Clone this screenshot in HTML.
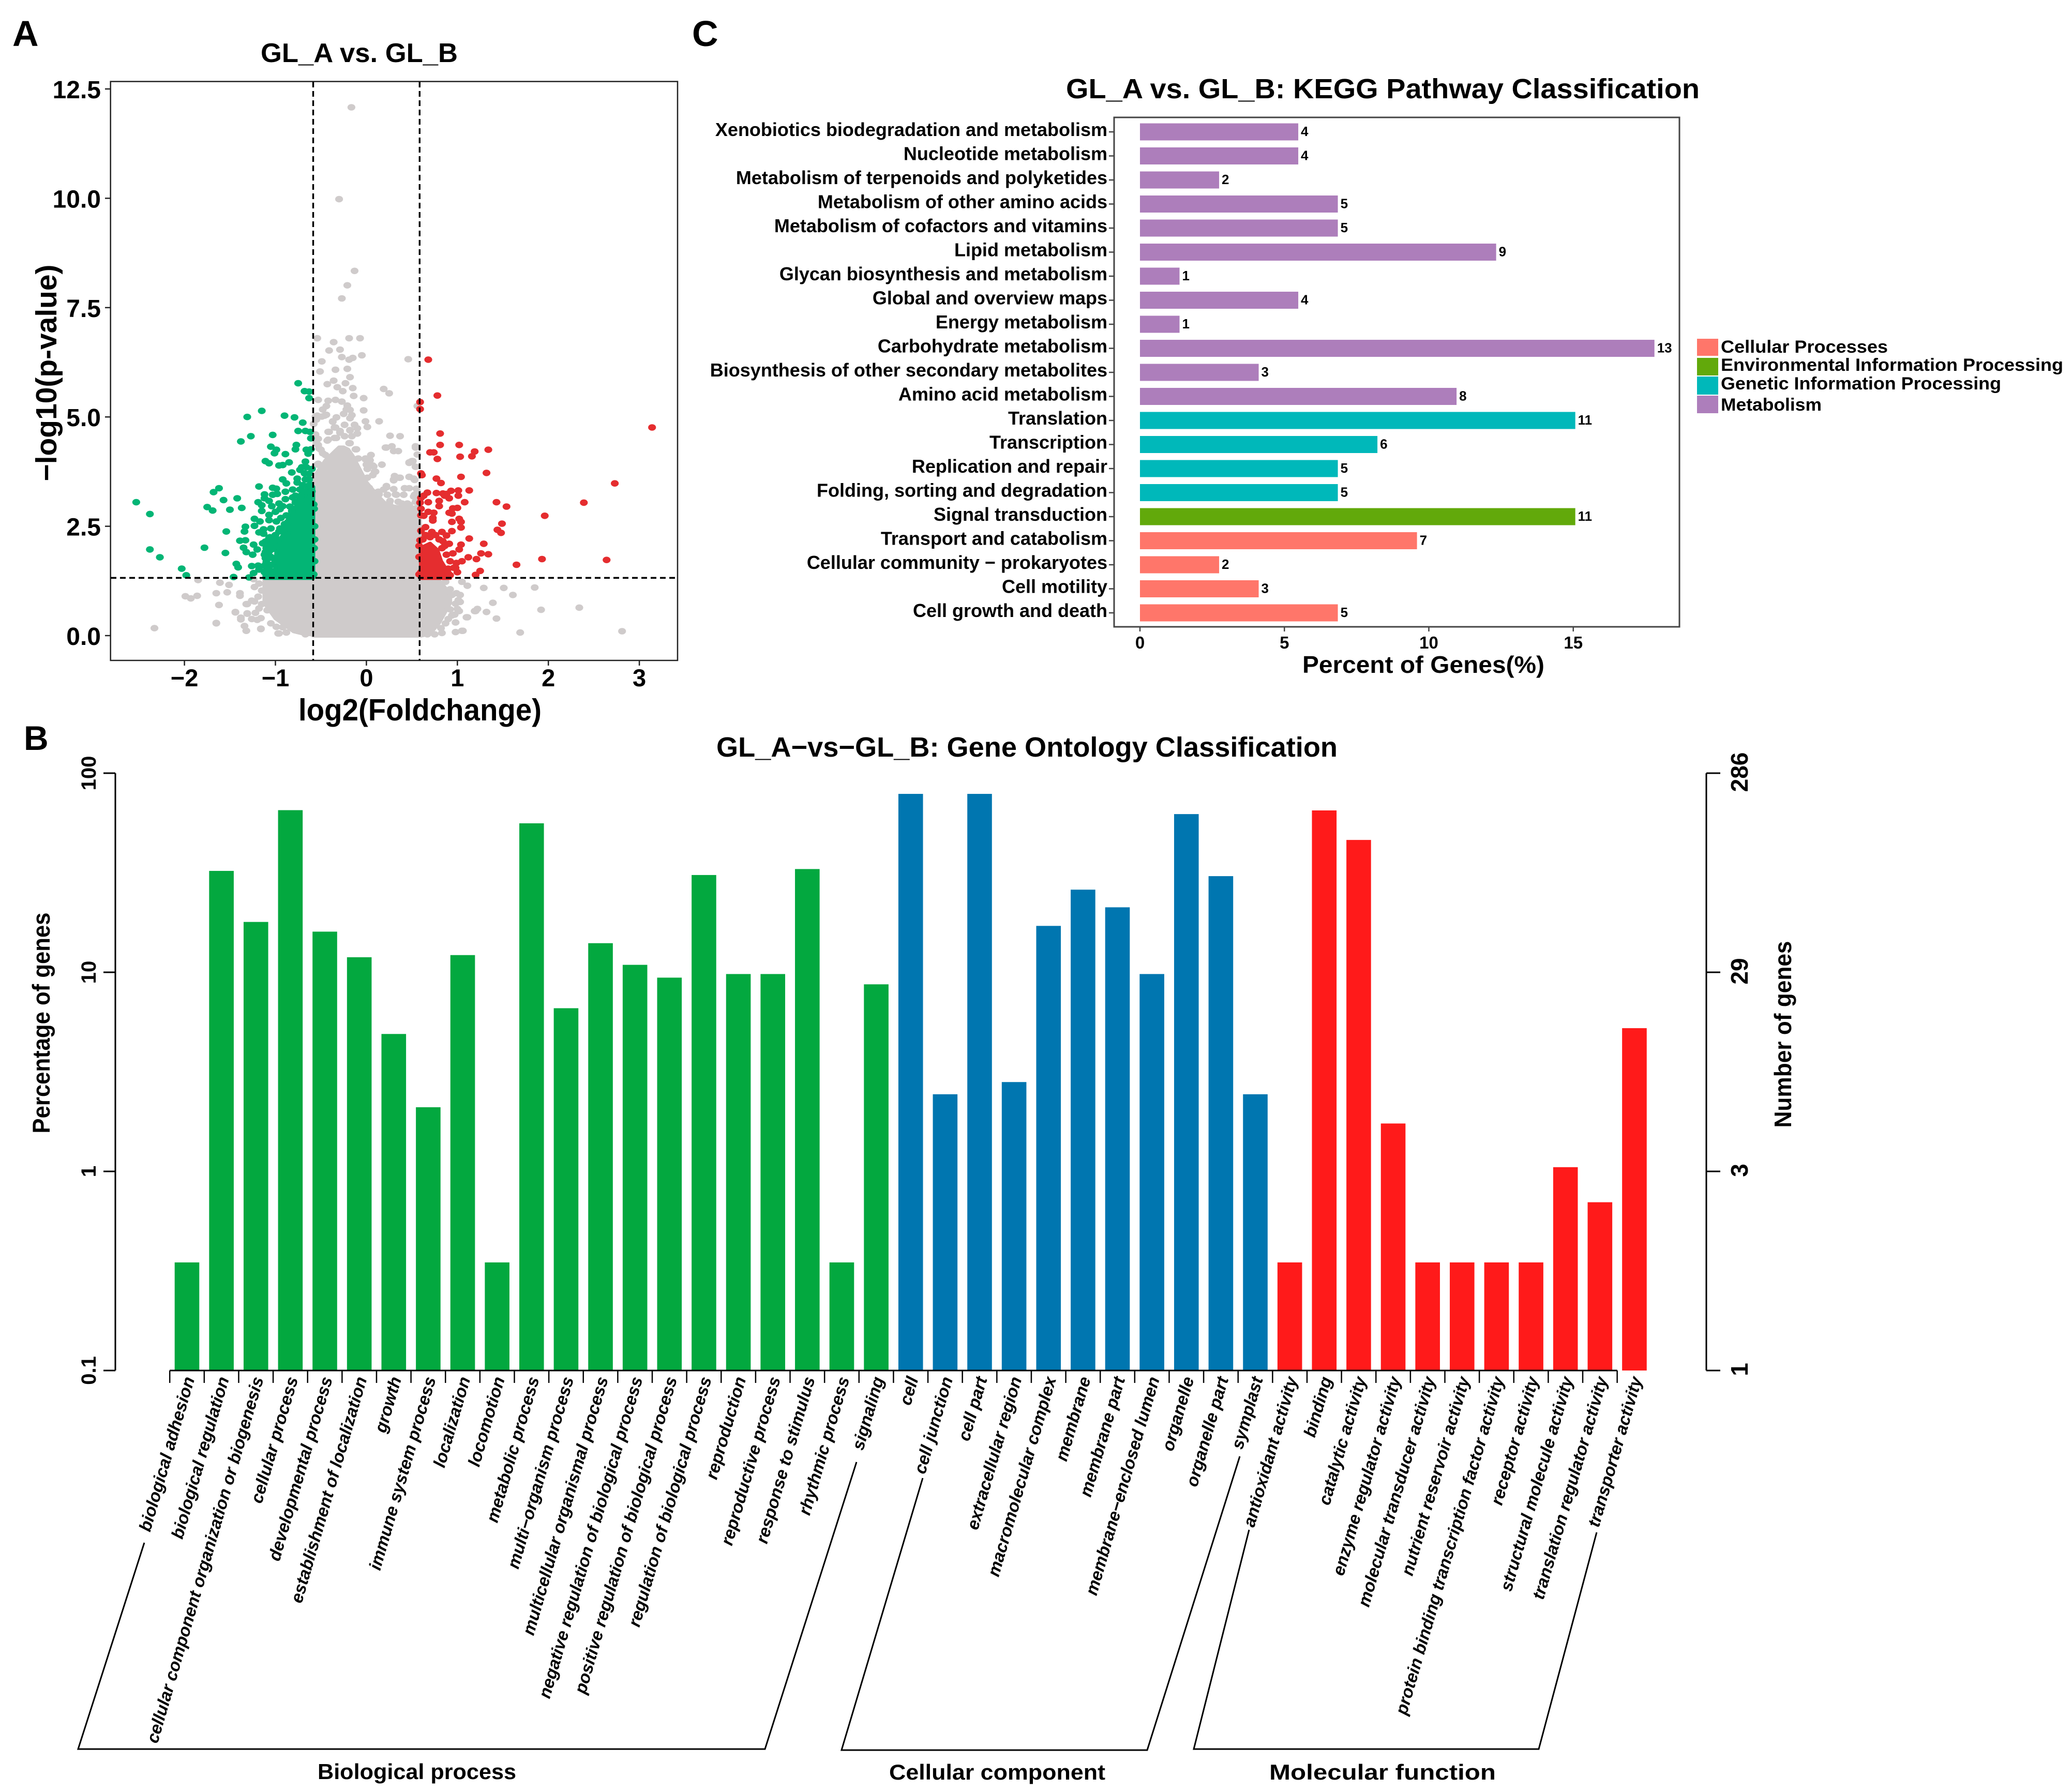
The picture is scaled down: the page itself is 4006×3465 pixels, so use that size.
<!DOCTYPE html>
<html lang="en">
<head>
<meta charset="utf-8">
<title>GL_A vs. GL_B figure</title>
<style>
html,body{margin:0;padding:0;background:#fff;}
svg{display:block;}
text{font-family:"Liberation Sans",Arial,sans-serif;font-weight:bold;fill:#000;}
</style>
</head>
<body>
<svg id="fig" xmlns="http://www.w3.org/2000/svg" width="4006" height="3465" viewBox="0 0 4006 3465">
<rect x="0" y="0" width="4006" height="3465" fill="#fff"/>
<text x="24" y="89" font-size="70">A</text>
<text x="46" y="1450" font-size="66">B</text>
<text x="1338" y="89" font-size="70">C</text>

<g id="volcano"></g>
<text x="504" y="120" font-size="52" textLength="381" lengthAdjust="spacingAndGlyphs">GL_A vs. GL_B</text>
<text transform="translate(109,721) rotate(-90)" text-anchor="middle" font-size="57" textLength="419" lengthAdjust="spacingAndGlyphs">−log10(p-value)</text>
<text x="812" y="1393" text-anchor="middle" font-size="59" textLength="470" lengthAdjust="spacingAndGlyphs">log2(Foldchange)</text>

<g id="kegg"></g>
<text x="2061" y="190" font-size="54" textLength="1225" lengthAdjust="spacingAndGlyphs">GL_A vs. GL_B: KEGG Pathway Classification</text>
<text x="2518" y="1301" font-size="46" textLength="468" lengthAdjust="spacingAndGlyphs">Percent of Genes(%)</text>
<g>
  <rect x="3281" y="655" width="41" height="33" fill="#FF766A"/>
  <rect x="3281" y="692" width="41" height="34" fill="#62A90B"/>
  <rect x="3281" y="728" width="41" height="35" fill="#00B8BA"/>
  <rect x="3281" y="765" width="41" height="34" fill="#AD7EBB"/>
  <text x="3327" y="682" font-size="34" textLength="323" lengthAdjust="spacingAndGlyphs">Cellular Processes</text>
  <text x="3327" y="717" font-size="34" textLength="662" lengthAdjust="spacingAndGlyphs">Environmental Information Processing</text>
  <text x="3327" y="753" font-size="34" textLength="542" lengthAdjust="spacingAndGlyphs">Genetic Information Processing</text>
  <text x="3327" y="794" font-size="34" textLength="195" lengthAdjust="spacingAndGlyphs">Metabolism</text>
</g>

<g id="go"></g>
<text x="1385" y="1463" font-size="54" textLength="1201" lengthAdjust="spacingAndGlyphs">GL_A−vs−GL_B: Gene Ontology Classification</text>
<text transform="translate(96,1978) rotate(-90)" text-anchor="middle" font-size="47" textLength="427" lengthAdjust="spacingAndGlyphs">Percentage of genes</text>
<text transform="translate(3463,2000) rotate(-90)" text-anchor="middle" font-size="46" textLength="361" lengthAdjust="spacingAndGlyphs">Number of genes</text>
<g fill="none" stroke="#000" stroke-width="3">
  <polyline points="279,2983 151,3382 1479,3382 1656,2827"/>
  <polyline points="1784,2858 1627,3384 2218,3384 2397,2816"/>
  <polyline points="2415,2958 2308,3382 2975,3382 3087,2963"/>
</g>
<text x="614" y="3440" font-size="42" textLength="384" lengthAdjust="spacingAndGlyphs">Biological process</text>
<text x="1719" y="3441" font-size="42" textLength="418" lengthAdjust="spacingAndGlyphs">Cellular component</text>
<text x="2454" y="3441" font-size="42" textLength="438" lengthAdjust="spacingAndGlyphs">Molecular function</text>
</svg>

<script>
/* ---------- Volcano data (log2 fold change, -log10 p) ---------- */
const volcanoXTicks = [-2,-1,0,1,2,3];
const volcanoXTickLabels = ['−2','−1','0','1','2','3'];
const volcanoYTicks = [0,2.5,5,7.5,10,12.5];
const volcanoYTickLabels = ['0.0','2.5','5.0','7.5','10.0','12.5'];
const fcCutoff = 0.585;
const pCutoff = 1.32;

const grayCoreX = [-1.12,-1.0,-0.9,-0.8,-0.7,-0.6,-0.585,-0.55,-0.5,-0.45,-0.35,-0.3,-0.25,-0.2,-0.15,-0.1,-0.05,0,0.1,0.2,0.3,0.4,0.5,0.585,0.6,0.7,0.8,0.88,0.92];
const grayCoreTop = [1.3,1.3,1.3,1.3,1.3,1.3,3.6,3.7,3.85,4.0,4.2,4.3,4.3,4.25,4.1,3.9,3.7,3.5,3.25,3.03,2.95,2.92,2.92,2.95,1.3,1.3,1.25,1.05,0.95];
const grayCoreBottom = [0.75,0.4,0.25,0.1,0.05,0.03,0,0,0,0,0,0,0,0,0,0,0,0,0,0,0,0,0,0,0,0.05,0.3,0.6,0.75];

const grayPoints = [[-0.165,12.08],[-0.30,9.98],[-0.13,8.34],[-0.21,8.01],[-0.27,7.71],[-0.54,6.80],[-0.19,6.80],[-0.07,6.80],[-0.36,6.71],[-0.41,6.52],[-0.29,6.54],[-0.27,6.37],[-0.19,6.31],[-0.15,6.35],[-0.05,6.41],[0.46,6.32],[-0.49,6.27],[-0.51,6.04],[-0.34,6.08],[-0.21,6.10],[-0.18,5.91],[-0.36,5.83],[-0.43,5.75],[-0.23,5.77],[-0.32,5.68],[-0.15,5.66],[-0.26,5.59],[0.19,5.64],[0.25,5.54],[-0.14,5.48],[-0.03,5.43],[-0.53,5.39],[-0.42,5.37],[-0.34,5.39],[-0.27,5.35],[-0.21,5.26],[-0.44,5.25],[-0.48,5.17],[-0.03,5.15],[-0.22,5.17],[-0.18,5.16],[0.56,5.25],[-0.44,5.05],[-0.25,5.07],[-0.16,5.04],[-0.56,5.01],[-0.49,5.01],[-0.33,4.99],[-0.18,4.97],[-0.55,4.94],[-0.01,4.90],[0.14,4.90],[-0.37,4.89],[-0.24,4.82],[-0.13,4.82],[-0.58,4.84],[0.01,4.77],[-0.34,4.76],[-0.10,4.74],[-0.18,4.70],[-0.41,4.66],[-0.29,4.64],[-0.10,4.62],[-0.56,4.60],[0.26,4.57],[0.37,4.56],[-0.16,4.56],[-0.53,4.50],[-0.42,4.48],[-0.33,4.52],[-0.19,4.40],[0.22,4.30],[0.28,4.33],[0.54,4.33],[0.30,4.22],[0.35,4.22],[-0.11,4.26],[0.56,4.14],[0.05,4.13],[-0.01,4.05],[0.04,4.01],[0.47,3.96],[0.51,3.99],[0.17,3.91],[0.0,3.91],[0.54,3.86],[0.08,3.87],[0.01,3.81],[0.10,3.75],[0.31,3.65],[0.47,3.63],[-0.53,4.36],[-0.50,4.25],[-0.45,4.13],[-0.09,4.05],[-0.11,3.85],[-0.09,3.75],[-0.53,3.93],[0.30,3.55],[0.37,3.61],[0.52,3.59],[0.49,3.98],[0.54,4.3],[0.17,3.91],[0.22,3.39],[0.32,3.23],[0.42,3.37],[0.52,3.18],[0.13,3.29],[0.56,3.29],[0.25,3.02],[0.39,3.02],[0.47,2.99],[-1.61,1.21],[-1.51,1.16],[-1.65,0.97],[-1.53,0.99],[-1.39,0.97],[-1.39,0.91],[-1.62,0.70],[-1.44,0.53],[-1.65,0.28],[-1.31,0.72],[-1.26,0.80],[-1.23,0.78],[-1.31,0.51],[-1.38,0.41],[-1.34,0.22],[-1.32,0.11],[-1.16,0.15],[-1.26,0.38],[-1.20,0.36],[-1.22,0.52],[-1.16,0.40],[-1.18,0.62],[-1.15,0.72],[-1.19,0.89],[-1.23,1.11],[-1.18,1.19],[-1.24,1.29],[-1.15,1.03],[-1.09,0.58],[-1.05,0.28],[-0.99,0.20],[-0.96,0.05],[-0.88,0.07],[-0.92,0.19],[-0.79,0.13],[-0.67,0.03],[-1.0,0.5],[-0.98,0.42],[-1.07,1.25],[-0.99,1.29],[0.87,1.23],[1.05,1.23],[1.11,1.14],[0.83,1.11],[0.92,1.06],[0.99,0.97],[0.94,0.93],[1.03,0.93],[1.01,0.81],[0.98,0.73],[0.92,0.60],[1.02,0.56],[0.97,0.48],[0.94,0.46],[1.11,0.42],[0.98,0.30],[0.90,0.38],[0.87,0.28],[0.82,0.17],[0.83,0.06],[0.98,0.08],[1.06,0.11],[0.75,0.03],[0.67,0.03],[0.80,0.42],[0.77,0.46],[0.71,0.26],[1.19,0.56],[1.29,1.09],[1.51,1.09],[1.61,0.93],[1.85,1.10],[1.39,0.75],[1.22,0.61],[1.20,0.56],[1.32,0.54],[1.43,0.39],[1.10,0.42],[1.92,0.59],[2.34,0.64],[1.69,0.07],[2.81,0.10],[1.05,0.11],[1.03,0.77],[1.0,0.61],[-1.85,1.27],[-1.99,0.90],[-1.93,0.85],[-1.86,0.91],[-1.62,0.70],[-1.65,0.29],[-2.33,0.17],[-1.44,0.54],[-1.32,0.72],[-1.38,0.37],[-1.31,0.50],[-1.32,0.11],[-1.16,0.16],[-0.97,0.05]];
const grayEdgePoints = [[-0.54,5.03],[-0.46,5.03],[-0.33,4.99],[-0.37,4.90],[-0.24,4.82],[-0.35,4.76],[-0.13,4.82],[-0.42,4.66],[-0.29,4.68],[-0.18,4.69],[-0.10,4.62],[-0.56,4.56],[-0.43,4.46],[-0.35,4.52],[-0.24,4.56],[-0.18,4.40],[-0.12,4.26],[-0.52,4.28],[-0.48,4.17],[-0.55,4.40],[-0.12,4.03],[-0.01,4.03],[0.05,4.13],[0.01,3.93],[0.07,3.89],[0.01,3.81],[0.09,3.75],[0.07,3.67],[0.01,3.61],[-0.54,3.91],[0.21,4.30],[0.50,3.99],[0.47,3.95],[0.54,3.86],[0.36,3.61],[0.30,3.57],[0.47,3.63],[0.53,3.56],[0.22,3.42],[0.19,3.34],[0.30,3.35],[0.42,3.37],[0.47,3.37],[0.55,3.36],[0.14,3.23],[0.23,3.22],[0.33,3.22],[0.41,3.22],[0.53,3.22],[0.03,3.38],[0.07,3.28],[0.04,3.18],[0.09,3.06],[0.26,3.08],[0.35,3.06],[0.45,3.02],[0.54,3.06]];

const greenCoreX = [-1.12,-1.0,-0.99,-0.95,-0.9,-0.85,-0.8,-0.75,-0.7,-0.65,-0.6,-0.585];
const greenCoreTop = [1.5,1.5,1.9,2.2,2.35,2.75,2.9,3.0,3.1,3.3,3.4,3.4];
const greenPoints = [[-2.53,3.05],[-2.38,2.78],[-2.38,1.97],[-2.27,1.79],[-2.03,1.53],[-1.98,1.38],[-1.78,2.01],[-1.55,1.89],[-1.54,2.38],[-1.46,1.34],[-1.29,1.33],[-1.62,3.37],[-1.68,3.28],[-1.57,3.10],[-1.42,3.14],[-1.75,2.94],[-1.69,2.86],[-1.50,2.88],[-1.37,2.92],[-1.38,4.44],[-1.27,4.56],[-1.31,5.00],[-1.15,5.14],[-0.90,5.03],[-0.79,4.99],[-0.70,4.87],[-0.75,5.77],[-0.68,5.59],[-0.63,5.58],[-0.63,5.43],[-1.03,4.59],[-0.75,4.68],[-0.67,4.68],[-0.62,4.66],[-0.61,4.51],[-1.05,4.32],[-0.99,4.25],[-1.01,4.17],[-0.89,4.15],[-0.77,4.36],[-0.78,4.26],[-0.66,4.25],[-0.64,4.16],[-0.61,4.26],[-1.11,3.99],[-1.07,3.94],[-0.96,3.89],[-0.92,3.90],[-0.85,3.96],[-0.82,3.73],[-0.67,3.98],[-0.71,3.85],[-0.73,3.79],[-0.66,3.85],[-0.60,3.81],[-0.68,3.71],[-0.92,3.57],[-0.88,3.48],[-0.76,3.59],[-0.76,3.50],[-0.67,3.57],[-0.63,3.57],[-1.18,3.41],[-1.03,3.38],[-0.99,3.36],[-0.89,3.29],[-0.81,3.34],[-0.73,3.34],[-0.62,3.28],[-1.12,3.23],[-1.03,3.22],[-0.98,3.24],[-1.12,3.14],[-0.89,3.12],[-0.81,3.16],[-0.73,3.15],[-1.19,3.05],[-1.07,3.08],[-1.15,2.98],[-1.04,2.96],[-0.96,3.02],[-0.92,2.96],[-0.95,2.89],[-1.15,2.85],[-1.0,2.83],[-1.07,2.76],[-1.07,2.64],[-1.23,2.67],[-1.17,2.61],[-0.99,2.61],[-0.94,2.69],[-1.23,2.51],[-1.33,2.49],[-1.34,2.38],[-1.13,2.43],[-1.05,2.45],[-1.18,2.36],[-1.13,2.33],[-0.95,2.45],[-0.88,2.32],[-1.39,2.17],[-1.33,2.18],[-1.07,2.23],[-1.24,2.08],[-1.20,1.97],[-1.35,2.01],[-1.32,1.91],[-1.25,1.85],[-1.14,2.11],[-1.11,1.91],[-1.05,1.80],[-1.11,1.77],[-1.43,1.64],[-1.41,1.56],[-1.26,1.59],[-1.19,1.60],[-1.24,1.43],[-1.18,1.51],[-1.12,1.60],[-1.12,1.45],[-1.08,1.55],[-1.04,1.62],[-1.0,1.7],[-1.1,1.68],[-1.05,1.78],[-1.12,1.85],[-1.07,1.92],[-1.03,1.98],[-1.0,2.05],[-1.1,2.0],[-1.06,2.1],[-1.02,2.15],[-0.98,2.2],[-1.11,2.15],[-1.06,2.25],[-1.0,2.3],[-0.96,2.38],[-0.92,2.42],[-0.9,2.55],[-0.86,2.6],[-0.85,2.45],[-0.82,2.85],[-0.88,2.75],[-0.84,2.95],[-0.78,3.05],[-0.72,3.2],[-0.68,3.3],[-0.65,3.42],[-0.62,3.45],[-0.78,3.2],[-0.7,3.44],[-0.63,3.7],[-0.6,3.3],[-0.58,3.0],[-0.57,2.5],[-0.575,2.0],[-0.57,1.7],[-0.58,1.4],[-0.575,2.9],[-0.57,2.2]];

const redCoreX = [0.6,0.7,0.78,0.82,0.88,0.92];
const redCoreTop = [2.0,2.1,1.95,1.7,1.5,1.4];
const redPoints = [[0.68,6.31],[0.78,5.49],[0.59,5.34],[0.59,5.18],[3.14,4.76],[0.81,4.62],[0.81,4.36],[1.02,4.36],[1.19,4.21],[1.34,4.25],[1.16,4.10],[1.03,4.09],[0.70,4.19],[0.74,4.19],[0.78,4.04],[1.32,3.72],[0.60,3.71],[0.61,3.67],[1.04,3.63],[0.77,3.59],[0.82,3.49],[2.73,3.48],[1.13,3.32],[0.67,3.27],[0.63,3.20],[0.60,3.15],[0.77,3.26],[0.84,3.25],[0.93,3.31],[1.01,3.32],[1.01,3.20],[0.88,3.24],[0.91,3.14],[0.86,3.20],[0.68,3.05],[0.80,3.08],[0.80,2.96],[1.08,3.05],[1.43,3.05],[1.54,2.95],[2.39,3.04],[0.59,3.04],[0.60,2.90],[0.95,2.91],[1.0,2.92],[0.91,2.81],[0.94,2.79],[0.68,2.83],[0.74,2.81],[0.60,2.75],[0.63,2.74],[0.73,2.69],[0.73,2.63],[1.96,2.74],[1.02,2.67],[0.94,2.60],[1.04,2.60],[1.04,2.47],[1.49,2.56],[1.44,2.42],[1.48,2.35],[0.65,2.48],[0.60,2.40],[0.83,2.37],[0.94,2.39],[0.72,2.37],[0.88,2.29],[1.13,2.22],[0.84,2.16],[0.91,2.10],[1.04,2.08],[1.02,1.97],[1.29,2.10],[0.59,2.18],[1.26,1.88],[1.34,1.86],[0.95,1.88],[1.12,1.79],[1.21,1.75],[1.05,1.70],[0.99,1.66],[1.93,1.75],[2.64,1.73],[1.65,1.62],[1.25,1.48],[1.20,1.39],[0.92,1.38],[0.83,2.0],[0.96,1.55],[0.90,1.53],[0.65,2.3],[0.7,2.25],[0.76,2.3],[0.8,2.2],[0.86,2.05],[0.88,1.85],[0.92,1.7],[0.98,1.55],[1.0,1.45],[0.86,1.5],[0.9,1.42],[0.6,1.45],[0.58,1.4],[0.58,1.8],[0.58,2.05],[0.62,2.2]];

/* ---------- KEGG data ---------- */
const keggPathways = ['Xenobiotics biodegradation and metabolism','Nucleotide metabolism','Metabolism of terpenoids and polyketides','Metabolism of other amino acids','Metabolism of cofactors and vitamins','Lipid metabolism','Glycan biosynthesis and metabolism','Global and overview maps','Energy metabolism','Carbohydrate metabolism','Biosynthesis of other secondary metabolites','Amino acid metabolism','Translation','Transcription','Replication and repair','Folding, sorting and degradation','Signal transduction','Transport and catabolism','Cellular community − prokaryotes','Cell motility','Cell growth and death'];
const keggPercents = [5.48,5.48,2.74,6.85,6.85,12.33,1.37,5.48,1.37,17.81,4.11,10.96,15.07,8.22,6.85,6.85,15.07,9.59,2.74,4.11,6.85];
const keggCounts = [4,4,2,5,5,9,1,4,1,13,3,8,11,6,5,5,11,7,2,3,5];
const keggGroups = ['M','M','M','M','M','M','M','M','M','M','M','M','G','G','G','G','E','C','C','C','C'];
const keggXTicks = [0,5,10,15];

/* ---------- GO data ---------- */
const goTerms = ['biological adhesion','biological regulation','cellular component organization or biogenesis','cellular process','developmental process','establishment of localization','growth','immune system process','localization','locomotion','metabolic process','multi−organism process','multicellular organismal process','negative regulation of biological process','positive regulation of biological process','regulation of biological process','reproduction','reproductive process','response to stimulus','rhythmic process','signaling','cell','cell junction','cell part','extracellular region','macromolecular complex','membrane','membrane part','membrane−enclosed lumen','organelle','organelle part','symplast','antioxidant activity','binding','catalytic activity','enzyme regulator activity','molecular transducer activity','nutrient reservoir activity','protein binding transcription factor activity','receptor activity','structural molecule activity','translation regulator activity','transporter activity'];
const goPercents = [0.349,32.3,17.9,65.2,16.0,11.9,4.9,2.1,12.2,0.349,56,6.6,14.0,10.9,9.4,30.8,9.8,9.8,33,0.349,8.7,78.7,2.44,78.7,2.81,17.1,26,21.2,9.8,62.3,30.4,2.44,0.349,65,46.2,1.74,0.349,0.349,0.349,0.349,1.05,0.70,5.24];
const goGroups = ['B','B','B','B','B','B','B','B','B','B','B','B','B','B','B','B','B','B','B','B','B','C','C','C','C','C','C','C','C','C','C','C','M','M','M','M','M','M','M','M','M','M','M'];
const goLeftTicks = [0.1,1,10,100];
const goLeftTickLabels = ['0.1','1','10','100'];
const goRightTickLabels = ['1','3','29','286'];

/* ---------- Axis functions ---------- */
const vx = v => 708.4 + 175.9 * v;
const vy = v => 1229 - 84.56 * v;
const kx = v => 2204 + 55.85 * v;
const ky = i => 255 + 46.5 * i;
const gx = i => 361.5 + 66.63 * i;
const gy = v => 2265 - 385 * Math.log10(v);

const NS = 'http://www.w3.org/2000/svg';
function make(parent, tag, geom, txt) {
  const el = document.createElementNS(NS, tag);
  for (const k in geom) el.setAttribute(k, geom[k]);
  if (txt !== undefined) el.textContent = txt;
  parent.appendChild(el);
  return el;
}
function corePath(xs, tops, bots) {
  let d = '';
  xs.forEach((x, i) => { d += (i ? 'L' : 'M') + vx(x).toFixed(1) + ' ' + vy(tops[i]).toFixed(1); });
  for (let i = xs.length - 1; i >= 0; i--) {
    const b = bots ? bots[i] : pCutoff;
    d += 'L' + vx(xs[i]).toFixed(1) + ' ' + vy(b).toFixed(1);
  }
  return d + 'Z';
}
function drawPoints(parent, pts, color, name) {
  pts.forEach(p => {
    const e = make(parent, 'ellipse', {cx: vx(p[0]).toFixed(1), cy: vy(p[1]).toFixed(1), rx: 7.6, ry: 6.3, fill: color});
    
    
  });
}

/* ---------- Draw volcano ---------- */
(function () {
  const g = document.getElementById('volcano');
  const frame = make(g, 'rect', {x: 213.7, y: 157.6, width: 1096.3, height: 1119.4, fill: '#fff', stroke: '#222', 'stroke-width': 2.5});
  
  

  const grayCore = make(g, 'path', {d: corePath(grayCoreX, grayCoreTop, grayCoreBottom), fill: '#CFCBCB', stroke: '#CFCBCB', 'stroke-width': 8, 'stroke-linejoin': 'round'});
  
  
  drawPoints(g, grayPoints, '#CFCBCB', 'not-significant-point');
  drawPoints(g, grayEdgePoints, '#CFCBCB', 'not-significant-point');

  const greenCore = make(g, 'path', {d: corePath(greenCoreX, greenCoreTop), fill: '#03B575', stroke: '#03B575', 'stroke-width': 8, 'stroke-linejoin': 'round'});
  
  
  drawPoints(g, greenPoints, '#03B575', 'down-regulated-point');

  const redCore = make(g, 'path', {d: corePath(redCoreX, redCoreTop), fill: '#E52D2F', stroke: '#E52D2F', 'stroke-width': 8, 'stroke-linejoin': 'round'});
  
  
  drawPoints(g, redPoints, '#E52D2F', 'up-regulated-point');

  const dash = {stroke: '#000', 'stroke-width': 3.4, 'stroke-dasharray': '11 7', fill: 'none'};
  const l1 = make(g, 'line', Object.assign({x1: vx(-fcCutoff), x2: vx(-fcCutoff), y1: 158, y2: 1277}, dash));
  
  
  const l2 = make(g, 'line', Object.assign({x1: vx(fcCutoff), x2: vx(fcCutoff), y1: 158, y2: 1277}, dash));
  
  
  const l3 = make(g, 'line', Object.assign({x1: 214, x2: 1310, y1: vy(pCutoff), y2: vy(pCutoff)}, dash));
  
  

  volcanoXTicks.forEach((t, i) => {
    const tk = make(g, 'line', {x1: vx(t), x2: vx(t), y1: 1277, y2: 1287, stroke: '#222', 'stroke-width': 2.5});
    
    
    const lb = make(g, 'text', {x: vx(t), y: 1327, 'text-anchor': 'middle', 'font-size': 47}, volcanoXTickLabels[i]);
    
    
  });
  volcanoYTicks.forEach((t, i) => {
    const tk = make(g, 'line', {x1: 203, x2: 213.7, y1: vy(t), y2: vy(t), stroke: '#222', 'stroke-width': 2.5});
    
    
    const lb = make(g, 'text', {x: 195, y: vy(t) + 18, 'text-anchor': 'end', 'font-size': 48}, volcanoYTickLabels[i]);
    
    
  });
})();

/* ---------- Draw KEGG ---------- */
(function () {
  const g = document.getElementById('kegg');
  const colors = {M: '#AD7EBB', G: '#00B8BA', E: '#62A90B', C: '#FF766A'};
  const frame = make(g, 'rect', {x: 2154, y: 227, width: 1093, height: 985, fill: '#fff', stroke: '#444', 'stroke-width': 3});
  
  
  keggPathways.forEach((name, i) => {
    const b = make(g, 'rect', {x: kx(0), y: ky(i) - 16.5, width: kx(keggPercents[i]) - kx(0), height: 33, fill: colors[keggGroups[i]]});
    
    
    const c = make(g, 'text', {x: kx(keggPercents[i]) + 5, y: ky(i) + 8, 'font-size': 26}, String(keggCounts[i]));
    
    
    const tk = make(g, 'line', {x1: 2144, x2: 2154, y1: ky(i), y2: ky(i), stroke: '#444', 'stroke-width': 2.5});
    
    
    const lb = make(g, 'text', {x: 2141, y: ky(i) + 8, 'text-anchor': 'end', 'font-size': 36}, name);
    
    
  });
  keggXTicks.forEach(t => {
    const tk = make(g, 'line', {x1: kx(t), x2: kx(t), y1: 1212, y2: 1221, stroke: '#444', 'stroke-width': 2.5});
    
    
    const lb = make(g, 'text', {x: kx(t), y: 1254, 'text-anchor': 'middle', 'font-size': 33}, String(t));
    
    
  });
})();

/* ---------- Draw GO ---------- */
(function () {
  const g = document.getElementById('go');
  const colors = {B: '#03A83F', C: '#0076B0', M: '#FF1A1A'};
  const base = gy(goLeftTicks[0]);
  const top = gy(goLeftTicks[goLeftTicks.length - 1]);
  goTerms.forEach((term, i) => {
    const b = make(g, 'rect', {x: gx(i) - 23.8, y: gy(goPercents[i]), width: 47.6, height: base - gy(goPercents[i]), fill: colors[goGroups[i]]});
    
    
    const tk = make(g, 'line', {x1: gx(i) - 33.3, x2: gx(i) - 33.3, y1: base, y2: 2674, stroke: '#000', 'stroke-width': 2.5});
    
    
    const lb = make(g, 'text', {transform: 'translate(' + (gx(i) + 15) + ',2666) rotate(-73.8)', 'text-anchor': 'end', 'font-size': 33.2, 'font-style': 'italic'}, term);
    
    
  });
  const bx = make(g, 'line', {x1: gx(0) - 33.3, x2: gx(goTerms.length - 1) - 33.3, y1: base, y2: base, stroke: '#000', 'stroke-width': 3});
  
  
  const al = make(g, 'line', {x1: 223, x2: 223, y1: top, y2: base, stroke: '#000', 'stroke-width': 3});
  
  
  const ar = make(g, 'line', {x1: 3299, x2: 3299, y1: top, y2: base, stroke: '#000', 'stroke-width': 3});
  
  
  goLeftTicks.forEach((t, i) => {
    const tk = make(g, 'line', {x1: 200, x2: 223, y1: gy(t), y2: gy(t), stroke: '#000', 'stroke-width': 3});
    
    
    const lb = make(g, 'text', {transform: 'translate(185,' + gy(t) + ') rotate(-90)', 'text-anchor': 'middle', 'font-size': 40}, goLeftTickLabels[i]);
    
    
    const tr = make(g, 'line', {x1: 3299, x2: 3326, y1: gy(t), y2: gy(t), stroke: '#000', 'stroke-width': 3});
    
    
    const rb = make(g, 'text', {transform: 'translate(3379,' + (gy(t) - 2) + ') rotate(-90)', 'text-anchor': 'middle', 'font-size': 46}, goRightTickLabels[i]);
    
    
  });
})();
</script>
</body>
</html>
